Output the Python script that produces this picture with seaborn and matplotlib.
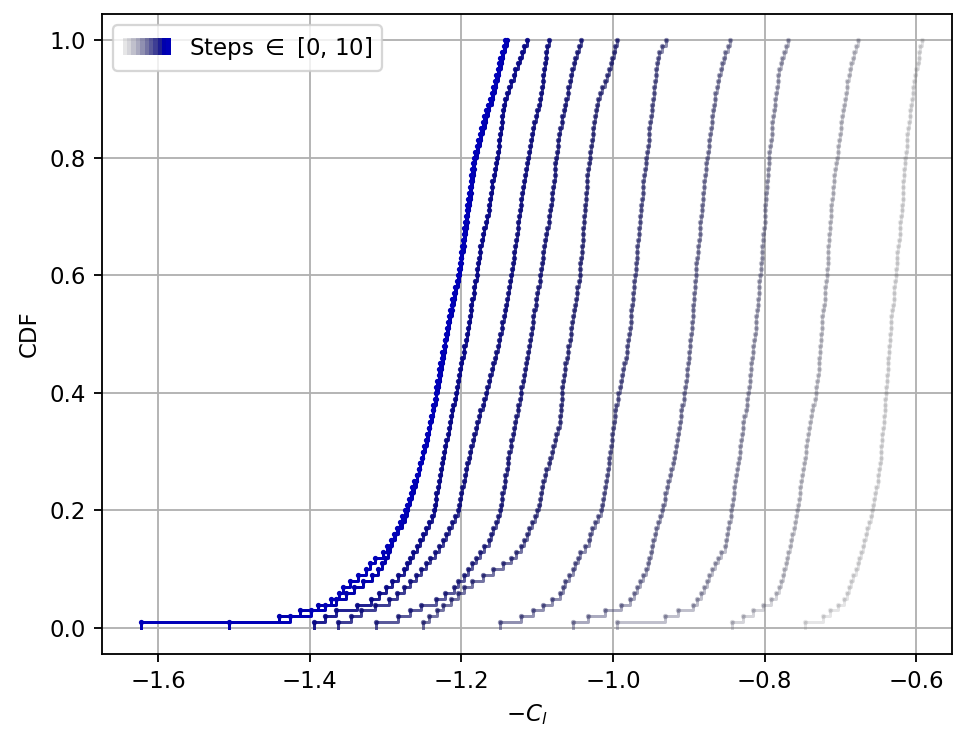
import numpy as np
import pandas as pd
import matplotlib
matplotlib.use("Agg")
import matplotlib.pyplot as plt
from matplotlib.patches import Patch
from matplotlib.legend_handler import HandlerTuple
import seaborn as sns

# Sampled -C_l values (100 samples per optimisation step)
step0 = [
    -0.747, -0.723, -0.714, -0.704, -0.695, -0.692, -0.689, -0.686, -0.683, -0.680,
    -0.677, -0.675, -0.673, -0.671, -0.669, -0.667, -0.665, -0.662, -0.660, -0.658,
    -0.657, -0.656, -0.654, -0.653, -0.651, -0.650, -0.649, -0.648, -0.647, -0.647,
    -0.646, -0.645, -0.645, -0.644, -0.643, -0.643, -0.642, -0.641, -0.641, -0.640,
    -0.640, -0.639, -0.639, -0.638, -0.638, -0.637, -0.636, -0.636, -0.635, -0.635,
    -0.634, -0.633, -0.633, -0.632, -0.631, -0.630, -0.630, -0.629, -0.628, -0.627,
    -0.627, -0.626, -0.625, -0.625, -0.624, -0.623, -0.622, -0.622, -0.621, -0.620,
    -0.619, -0.619, -0.618, -0.618, -0.617, -0.617, -0.616, -0.616, -0.615, -0.615,
    -0.614, -0.613, -0.613, -0.612, -0.611, -0.610, -0.609, -0.608, -0.607, -0.606,
    -0.605, -0.604, -0.603, -0.602, -0.600, -0.598, -0.597, -0.596, -0.595, -0.593,
]
step1 = [
    -0.843, -0.828, -0.815, -0.802, -0.792, -0.785, -0.781, -0.778, -0.776, -0.774,
    -0.772, -0.770, -0.769, -0.767, -0.765, -0.764, -0.762, -0.760, -0.759, -0.757,
    -0.756, -0.755, -0.754, -0.753, -0.752, -0.751, -0.749, -0.748, -0.747, -0.746,
    -0.745, -0.744, -0.743, -0.742, -0.740, -0.739, -0.737, -0.736, -0.734, -0.733,
    -0.732, -0.731, -0.730, -0.729, -0.729, -0.728, -0.727, -0.727, -0.726, -0.726,
    -0.725, -0.724, -0.724, -0.723, -0.722, -0.721, -0.720, -0.720, -0.719, -0.718,
    -0.718, -0.717, -0.717, -0.716, -0.716, -0.715, -0.715, -0.714, -0.714, -0.713,
    -0.713, -0.712, -0.711, -0.710, -0.710, -0.709, -0.708, -0.707, -0.706, -0.705,
    -0.704, -0.703, -0.702, -0.701, -0.700, -0.699, -0.698, -0.697, -0.696, -0.694,
    -0.693, -0.692, -0.691, -0.689, -0.688, -0.686, -0.684, -0.682, -0.680, -0.677,
]
step2 = [
    -0.995, -0.931, -0.914, -0.895, -0.889, -0.884, -0.880, -0.876, -0.873, -0.869,
    -0.866, -0.862, -0.857, -0.852, -0.851, -0.850, -0.848, -0.847, -0.845, -0.844,
    -0.843, -0.842, -0.841, -0.840, -0.839, -0.838, -0.836, -0.835, -0.834, -0.833,
    -0.832, -0.831, -0.830, -0.829, -0.828, -0.827, -0.825, -0.824, -0.823, -0.822,
    -0.821, -0.820, -0.819, -0.818, -0.818, -0.817, -0.816, -0.815, -0.814, -0.813,
    -0.812, -0.812, -0.811, -0.810, -0.809, -0.809, -0.808, -0.807, -0.807, -0.806,
    -0.805, -0.805, -0.804, -0.804, -0.803, -0.802, -0.802, -0.801, -0.800, -0.800,
    -0.799, -0.799, -0.798, -0.798, -0.797, -0.797, -0.796, -0.796, -0.795, -0.795,
    -0.794, -0.793, -0.792, -0.791, -0.791, -0.790, -0.789, -0.788, -0.787, -0.786,
    -0.785, -0.784, -0.783, -0.782, -0.781, -0.779, -0.777, -0.775, -0.772, -0.769,
]
step3 = [
    -1.053, -1.033, -1.010, -0.990, -0.978, -0.973, -0.968, -0.964, -0.961, -0.957,
    -0.954, -0.952, -0.950, -0.949, -0.947, -0.945, -0.943, -0.941, -0.938, -0.936,
    -0.934, -0.932, -0.931, -0.929, -0.927, -0.925, -0.923, -0.921, -0.920, -0.918,
    -0.917, -0.916, -0.914, -0.913, -0.912, -0.911, -0.910, -0.909, -0.907, -0.906,
    -0.905, -0.904, -0.903, -0.902, -0.901, -0.900, -0.900, -0.899, -0.898, -0.897,
    -0.896, -0.896, -0.895, -0.895, -0.894, -0.893, -0.893, -0.892, -0.892, -0.891,
    -0.890, -0.890, -0.889, -0.888, -0.888, -0.887, -0.886, -0.886, -0.885, -0.884,
    -0.883, -0.883, -0.882, -0.881, -0.880, -0.880, -0.879, -0.878, -0.877, -0.876,
    -0.875, -0.874, -0.873, -0.872, -0.871, -0.870, -0.869, -0.868, -0.867, -0.866,
    -0.865, -0.863, -0.862, -0.860, -0.858, -0.856, -0.854, -0.852, -0.849, -0.846,
]
step4 = [
    -1.149, -1.121, -1.105, -1.093, -1.080, -1.070, -1.066, -1.063, -1.058, -1.053,
    -1.050, -1.046, -1.043, -1.037, -1.032, -1.030, -1.028, -1.024, -1.020, -1.016,
    -1.015, -1.013, -1.012, -1.011, -1.009, -1.008, -1.007, -1.006, -1.005, -1.004,
    -1.003, -1.002, -1.001, -1.000, -0.999, -0.998, -0.997, -0.996, -0.994, -0.993,
    -0.991, -0.990, -0.988, -0.987, -0.985, -0.983, -0.982, -0.981, -0.980, -0.979,
    -0.978, -0.977, -0.977, -0.976, -0.975, -0.974, -0.974, -0.973, -0.972, -0.971,
    -0.970, -0.970, -0.969, -0.968, -0.968, -0.967, -0.966, -0.966, -0.965, -0.964,
    -0.963, -0.963, -0.962, -0.961, -0.960, -0.960, -0.959, -0.958, -0.957, -0.956,
    -0.955, -0.954, -0.953, -0.953, -0.952, -0.951, -0.950, -0.949, -0.948, -0.947,
    -0.946, -0.946, -0.945, -0.944, -0.943, -0.942, -0.941, -0.939, -0.935, -0.930,
]
step5 = [
    -1.251, -1.243, -1.232, -1.224, -1.214, -1.204, -1.196, -1.186, -1.172, -1.158,
    -1.145, -1.135, -1.128, -1.122, -1.118, -1.114, -1.111, -1.107, -1.103, -1.100,
    -1.098, -1.097, -1.095, -1.094, -1.092, -1.090, -1.088, -1.085, -1.083, -1.081,
    -1.079, -1.077, -1.075, -1.072, -1.070, -1.070, -1.069, -1.069, -1.068, -1.068,
    -1.067, -1.066, -1.065, -1.064, -1.063, -1.061, -1.060, -1.059, -1.057, -1.056,
    -1.055, -1.054, -1.053, -1.052, -1.050, -1.049, -1.048, -1.047, -1.045, -1.044,
    -1.043, -1.043, -1.042, -1.041, -1.041, -1.040, -1.039, -1.039, -1.038, -1.038,
    -1.037, -1.037, -1.036, -1.036, -1.035, -1.034, -1.034, -1.033, -1.032, -1.031,
    -1.030, -1.029, -1.028, -1.027, -1.026, -1.025, -1.024, -1.023, -1.021, -1.020,
    -1.017, -1.014, -1.011, -1.008, -1.005, -1.003, -1.001, -0.999, -0.997, -0.995,
]
step6 = [
    -1.312, -1.284, -1.268, -1.253, -1.234, -1.221, -1.210, -1.204, -1.197, -1.191,
    -1.186, -1.181, -1.175, -1.170, -1.164, -1.161, -1.158, -1.155, -1.152, -1.149,
    -1.148, -1.147, -1.146, -1.144, -1.143, -1.142, -1.140, -1.139, -1.138, -1.137,
    -1.135, -1.134, -1.132, -1.131, -1.129, -1.128, -1.126, -1.125, -1.123, -1.122,
    -1.121, -1.119, -1.118, -1.116, -1.115, -1.114, -1.112, -1.111, -1.109, -1.108,
    -1.107, -1.106, -1.105, -1.104, -1.102, -1.101, -1.100, -1.099, -1.097, -1.096,
    -1.095, -1.094, -1.093, -1.092, -1.091, -1.090, -1.088, -1.087, -1.085, -1.084,
    -1.083, -1.082, -1.081, -1.080, -1.079, -1.078, -1.077, -1.077, -1.076, -1.075,
    -1.074, -1.073, -1.072, -1.071, -1.070, -1.068, -1.067, -1.065, -1.064, -1.062,
    -1.060, -1.059, -1.057, -1.056, -1.054, -1.052, -1.050, -1.048, -1.045, -1.042,
]
step7 = [
    -1.363, -1.346, -1.333, -1.314, -1.295, -1.285, -1.276, -1.268, -1.260, -1.253,
    -1.247, -1.241, -1.235, -1.229, -1.224, -1.220, -1.216, -1.212, -1.208, -1.205,
    -1.203, -1.202, -1.200, -1.199, -1.197, -1.195, -1.194, -1.192, -1.190, -1.189,
    -1.187, -1.185, -1.183, -1.181, -1.179, -1.177, -1.175, -1.172, -1.170, -1.168,
    -1.166, -1.164, -1.162, -1.160, -1.158, -1.156, -1.154, -1.152, -1.150, -1.149,
    -1.147, -1.146, -1.144, -1.143, -1.141, -1.140, -1.139, -1.137, -1.136, -1.134,
    -1.133, -1.132, -1.131, -1.130, -1.129, -1.128, -1.127, -1.126, -1.125, -1.124,
    -1.123, -1.122, -1.121, -1.120, -1.119, -1.118, -1.116, -1.115, -1.114, -1.112,
    -1.111, -1.110, -1.108, -1.107, -1.105, -1.104, -1.102, -1.100, -1.098, -1.096,
    -1.095, -1.094, -1.093, -1.092, -1.091, -1.090, -1.089, -1.088, -1.087, -1.085,
]
step8 = [
    -1.394, -1.380, -1.366, -1.338, -1.319, -1.309, -1.300, -1.292, -1.284, -1.276,
    -1.272, -1.268, -1.264, -1.259, -1.255, -1.251, -1.247, -1.243, -1.239, -1.236,
    -1.235, -1.234, -1.233, -1.231, -1.230, -1.228, -1.227, -1.226, -1.224, -1.223,
    -1.221, -1.220, -1.218, -1.217, -1.215, -1.214, -1.212, -1.211, -1.209, -1.207,
    -1.206, -1.205, -1.203, -1.202, -1.200, -1.199, -1.197, -1.196, -1.194, -1.193,
    -1.191, -1.190, -1.189, -1.188, -1.187, -1.186, -1.184, -1.183, -1.182, -1.180,
    -1.179, -1.178, -1.177, -1.176, -1.175, -1.173, -1.172, -1.170, -1.168, -1.166,
    -1.164, -1.163, -1.162, -1.161, -1.160, -1.159, -1.157, -1.156, -1.155, -1.153,
    -1.152, -1.151, -1.150, -1.149, -1.148, -1.147, -1.146, -1.145, -1.144, -1.142,
    -1.140, -1.137, -1.134, -1.131, -1.129, -1.126, -1.123, -1.120, -1.117, -1.113,
]
step9 = [
    -1.507, -1.440, -1.413, -1.389, -1.366, -1.352, -1.341, -1.330, -1.318, -1.310,
    -1.305, -1.301, -1.297, -1.294, -1.291, -1.287, -1.283, -1.279, -1.275, -1.272,
    -1.270, -1.268, -1.265, -1.263, -1.260, -1.258, -1.256, -1.254, -1.252, -1.250,
    -1.249, -1.247, -1.245, -1.243, -1.241, -1.239, -1.237, -1.236, -1.234, -1.233,
    -1.231, -1.230, -1.228, -1.227, -1.226, -1.224, -1.223, -1.222, -1.221, -1.219,
    -1.218, -1.216, -1.215, -1.213, -1.212, -1.210, -1.209, -1.207, -1.205, -1.203,
    -1.202, -1.201, -1.200, -1.199, -1.197, -1.196, -1.195, -1.194, -1.193, -1.192,
    -1.191, -1.190, -1.189, -1.188, -1.187, -1.186, -1.185, -1.184, -1.183, -1.182,
    -1.180, -1.178, -1.176, -1.174, -1.172, -1.169, -1.167, -1.165, -1.163, -1.160,
    -1.158, -1.156, -1.154, -1.152, -1.150, -1.148, -1.147, -1.145, -1.143, -1.140,
]
step10 = [
    -1.622, -1.426, -1.399, -1.380, -1.372, -1.362, -1.356, -1.347, -1.336, -1.326,
    -1.320, -1.314, -1.304, -1.298, -1.293, -1.289, -1.285, -1.281, -1.278, -1.275,
    -1.272, -1.269, -1.267, -1.265, -1.262, -1.259, -1.256, -1.254, -1.252, -1.250,
    -1.248, -1.246, -1.244, -1.243, -1.241, -1.240, -1.238, -1.237, -1.235, -1.234,
    -1.233, -1.232, -1.230, -1.229, -1.228, -1.226, -1.225, -1.223, -1.222, -1.220,
    -1.219, -1.218, -1.216, -1.215, -1.213, -1.212, -1.210, -1.208, -1.206, -1.204,
    -1.203, -1.202, -1.201, -1.200, -1.199, -1.198, -1.197, -1.196, -1.195, -1.194,
    -1.193, -1.192, -1.191, -1.190, -1.189, -1.188, -1.187, -1.186, -1.185, -1.184,
    -1.182, -1.180, -1.178, -1.176, -1.174, -1.172, -1.170, -1.167, -1.165, -1.162,
    -1.160, -1.158, -1.156, -1.154, -1.152, -1.151, -1.149, -1.147, -1.144, -1.142,
]

steps = [0, 1, 2, 3, 4, 5, 6, 7, 8, 9, 10]
samples = [step0, step1, step2, step3, step4, step5,
           step6, step7, step8, step9, step10]

df = pd.DataFrame({
    "step": np.repeat(steps, [len(s) for s in samples]),
    "neg_cl": np.concatenate(samples),
})

# colour ramp: grey -> navy -> bright blue, opacity rising with the step
_knots = [0.0, 0.5, 0.8, 0.9, 1.0]
_red = [0.40, 0.09, 0.03, 0.0, 0.0]
_blue = [0.42, 0.40, 0.52, 0.68, 0.72]
_alpha = [0.16, 0.6, 0.9, 1.0, 1.0]


def step_colour(s, n_max=10):
    t = s / n_max
    r = float(np.interp(t, _knots, _red))
    b = float(np.interp(t, _knots, _blue))
    a = float(np.interp(t, _knots, _alpha))
    return (r, r, b), a


DPI = 165
fig = plt.figure(figsize=(954 / DPI, 733 / DPI), dpi=DPI)
ax = fig.add_axes([102 / 954, 1 - 654 / 733, 850 / 954, 640 / 733])

for s in steps:
    rgb, a = step_colour(s)
    sns.ecdfplot(data=df[df["step"] == s], x="neg_cl", ax=ax,
                 color=rgb, alpha=a, lw=1.3, marker=".", ms=2.6)

ax.set_xlim(-1.674, -0.553)
ax.set_ylim(-0.044, 1.044)
ax.set_xticks([-1.6, -1.4, -1.2, -1.0, -0.8, -0.6])
ax.set_yticks([0.0, 0.2, 0.4, 0.6, 0.8, 1.0])
ax.grid(True)
ax.set_axisbelow(True)
ax.set_xlabel(r"$-C_l$")
ax.set_ylabel("CDF")

# gradient legend key: one slim patch per step
stripes = []
for s in steps:
    rgb, a = step_colour(s)
    stripes.append(Patch(facecolor=rgb, alpha=a, edgecolor="none"))
ax.legend([tuple(stripes)], [r"Steps $\in$ [0, 10]"], loc="upper left",
          handler_map={tuple: HandlerTuple(ndivide=None, pad=0)},
          handlelength=2.1, handleheight=0.75)

fig.savefig("out.png", dpi=DPI)
